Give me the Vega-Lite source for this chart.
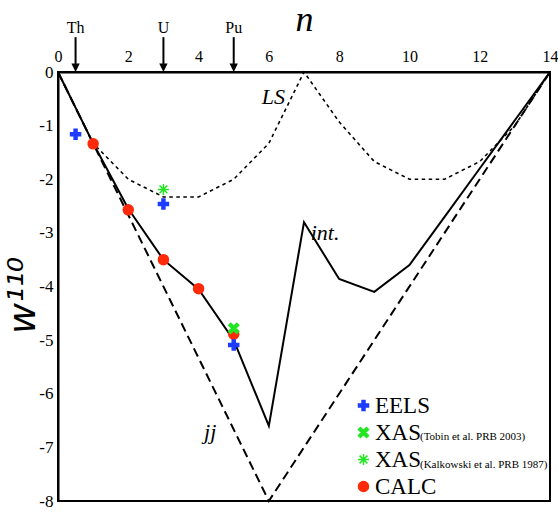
{
  "$schema": "https://vega.github.io/schema/vega-lite/v6.json",
  "width": 492,
  "height": 429,
  "autosize": {"type": "none"},
  "padding": {"left": 58, "top": 72, "right": 8, "bottom": 11},
  "background": "white",
  "config": {
    "view": {"stroke": "black", "strokeWidth": 2},
    "font": "Liberation Serif",
    "text": {"color": "black", "font": "Liberation Serif"},
    "axisY": {
      "ticks": false, "grid": false, "domainColor": "black", "domainWidth": 2,
      "labelFont": "Liberation Serif", "labelFontSize": 17, "labelColor": "black", "labelPadding": 5,
      "labelFlush": false, "labelOverlap": false,
      "titleFont": "DejaVu Sans", "titleFontSize": 38, "titleFontStyle": "italic", "titleFontWeight": "normal",
      "titleColor": "black", "titleAngle": 270, "titleX": -24, "titleY": 223, "titleAlign": "center", "titleBaseline": "alphabetic"
    }
  },
  "datasets": {
    "curves": [
      {"model": "int", "n": 0, "w": 0},
      {"model": "int", "n": 1, "w": -1.33},
      {"model": "int", "n": 2, "w": -2.55},
      {"model": "int", "n": 3, "w": -3.5},
      {"model": "int", "n": 4, "w": -4.05},
      {"model": "int", "n": 5, "w": -5.0},
      {"model": "int", "n": 6, "w": -6.6},
      {"model": "int", "n": 7, "w": -2.8},
      {"model": "int", "n": 8, "w": -3.86},
      {"model": "int", "n": 9, "w": -4.1},
      {"model": "int", "n": 10, "w": -3.6},
      {"model": "int", "n": 11, "w": -2.7},
      {"model": "int", "n": 12, "w": -1.8},
      {"model": "int", "n": 13, "w": -0.9},
      {"model": "int", "n": 14, "w": 0},
      {"model": "LS", "n": 0, "w": 0},
      {"model": "LS", "n": 1, "w": -1.33},
      {"model": "LS", "n": 2, "w": -2.0},
      {"model": "LS", "n": 3, "w": -2.33},
      {"model": "LS", "n": 4, "w": -2.33},
      {"model": "LS", "n": 5, "w": -2.0},
      {"model": "LS", "n": 6, "w": -1.33},
      {"model": "LS", "n": 7, "w": 0},
      {"model": "LS", "n": 8, "w": -0.93},
      {"model": "LS", "n": 9, "w": -1.67},
      {"model": "LS", "n": 10, "w": -2.0},
      {"model": "LS", "n": 11, "w": -2.0},
      {"model": "LS", "n": 12, "w": -1.67},
      {"model": "LS", "n": 13, "w": -1.0},
      {"model": "LS", "n": 14, "w": 0},
      {"model": "jj", "n": 0, "w": 0},
      {"model": "jj", "n": 6, "w": -8},
      {"model": "jj", "n": 14, "w": 0}
    ],
    "measured": [
      {"series": "CALC", "n": 1, "w": -1.34},
      {"series": "CALC", "n": 2, "w": -2.57},
      {"series": "CALC", "n": 3, "w": -3.5},
      {"series": "CALC", "n": 4, "w": -4.04},
      {"series": "CALC", "n": 5, "w": -4.89},
      {"series": "EELS", "n": 0.5, "w": -1.16},
      {"series": "EELS", "n": 3, "w": -2.46},
      {"series": "EELS", "n": 5, "w": -5.09},
      {"series": "XAS (Tobin et al. PRB 2003)", "n": 5, "w": -4.78},
      {"series": "XAS (Kalkowski et al. PRB 1987)", "n": 3, "w": -2.19}
    ],
    "elements": [
      {"element": "Th", "n": 0.5},
      {"element": "U", "n": 3},
      {"element": "Pu", "n": 5}
    ],
    "notes": [
      {"note": "LS", "n": 6.13, "w": -0.46},
      {"note": "int.", "n": 7.6, "w": -3.0},
      {"note": "jj", "n": 4.33, "w": -6.72}
    ],
    "refs": [
      {"ref": "(Tobin et al. PRB 2003)", "n": 10.3, "w": -6.87},
      {"ref": "(Kalkowski et al. PRB 1987)", "n": 10.3, "w": -7.39}
    ]
  },
  "encoding": {
    "x": {
      "field": "n", "type": "quantitative",
      "scale": {"domain": [0, 14], "nice": false, "zero": false},
      "axis": {
        "orient": "top", "values": [0, 2, 4, 6, 8, 10, 12, 14], "ticks": false, "grid": false,
        "domainColor": "black", "domainWidth": 2,
        "labelFont": "Liberation Serif", "labelFontSize": 16, "labelColor": "black",
        "labelPadding": 8, "labelFlush": false, "labelOverlap": false, "labelBound": false,
        "title": "n", "titleFont": "Liberation Serif", "titleFontSize": 36, "titleFontStyle": "italic",
        "titleFontWeight": "normal", "titleColor": "black", "titlePadding": 10
      }
    }
  },
  "layer": [
    {
      "data": {"name": "curves"},
      "transform": [{"filter": "datum.model == 'jj'"}],
      "mark": {"type": "line", "color": "black", "strokeWidth": 2, "strokeDash": [9, 5]},
      "encoding": {
        "y": {"field": "w", "type": "quantitative", "scale": {"domain": [-8, 0], "nice": false, "zero": false},
              "axis": {"values": [-8, -7, -6, -5, -4, -3, -2, -1, 0], "labelExpr": "'' + datum.value", "title": "w¹¹⁰"}}
      }
    },
    {
      "data": {"name": "curves"},
      "transform": [{"filter": "datum.model == 'LS'"}],
      "mark": {"type": "line", "color": "black", "strokeWidth": 1.6, "strokeDash": [3.5, 3.5]},
      "encoding": {
        "y": {"field": "w", "type": "quantitative", "scale": {"domain": [-8, 0], "nice": false, "zero": false},
              "axis": {"values": [-8, -7, -6, -5, -4, -3, -2, -1, 0], "labelExpr": "'' + datum.value", "title": "w¹¹⁰"}}
      }
    },
    {
      "data": {"name": "curves"},
      "transform": [{"filter": "datum.model == 'int'"}],
      "mark": {"type": "line", "color": "black", "strokeWidth": 2},
      "encoding": {
        "y": {"field": "w", "type": "quantitative", "scale": {"domain": [-8, 0], "nice": false, "zero": false},
              "axis": {"values": [-8, -7, -6, -5, -4, -3, -2, -1, 0], "labelExpr": "'' + datum.value", "title": "w¹¹⁰"}}
      }
    },
    {
      "data": {"name": "measured"},
      "mark": {"type": "point", "filled": true, "opacity": 1, "size": 100, "strokeWidth": 1.5},
      "encoding": {
        "y": {"field": "w", "type": "quantitative", "scale": {"domain": [-8, 0], "nice": false, "zero": false},
              "axis": {"values": [-8, -7, -6, -5, -4, -3, -2, -1, 0], "labelExpr": "'' + datum.value", "title": "w¹¹⁰"}},
        "fill": {
          "field": "series", "type": "nominal", "sort": null,
          "scale": {
            "domain": ["EELS", "XAS (Tobin et al. PRB 2003)", "XAS (Kalkowski et al. PRB 1987)", "CALC"],
            "range": ["#1e3cff", "#22e622", "#22e622", "#ff2a0a"]
          },
          "legend": {
            "title": null, "orient": "none", "legendX": 294, "legendY": 322, "padding": 0,
            "labelFont": "Liberation Serif", "labelFontSize": 23, "labelColor": "black",
            "symbolSize": 100, "symbolStrokeWidth": 1.5, "rowPadding": 3, "labelOffset": 0,
            "labelExpr": "split(datum.label, ' ')[0]"
          }
        },
        "stroke": {
          "field": "series", "type": "nominal", "sort": null,
          "scale": {
            "domain": ["EELS", "XAS (Tobin et al. PRB 2003)", "XAS (Kalkowski et al. PRB 1987)", "CALC"],
            "range": ["#1e3cff", "#22e622", "#22e622", "#ff2a0a"]
          },
          "legend": {
            "title": null, "orient": "none", "legendX": 294, "legendY": 322, "padding": 0,
            "labelFont": "Liberation Serif", "labelFontSize": 23, "labelColor": "black",
            "symbolSize": 100, "symbolStrokeWidth": 1.5, "rowPadding": 3, "labelOffset": 0,
            "labelExpr": "split(datum.label, ' ')[0]"
          }
        },
        "shape": {
          "field": "series", "type": "nominal", "sort": null,
          "scale": {
            "domain": ["EELS", "XAS (Tobin et al. PRB 2003)", "XAS (Kalkowski et al. PRB 1987)", "CALC"],
            "range": [
              "M-0.3,-1H0.3V-0.3H1V0.3H0.3V1H-0.3V0.3H-1V-0.3H-0.3Z",
              "M-1,-0.6L-0.6,-1L0,-0.4L0.6,-1L1,-0.6L0.4,0L1,0.6L0.6,1L0,0.4L-0.6,1L-1,0.6L-0.4,0Z",
              "M0,-1.1L0,1.1M-1.1,0L1.1,0M-0.78,-0.78L0.78,0.78M-0.78,0.78L0.78,-0.78",
              "circle"
            ]
          },
          "legend": {
            "title": null, "orient": "none", "legendX": 294, "legendY": 322, "padding": 0,
            "labelFont": "Liberation Serif", "labelFontSize": 23, "labelColor": "black",
            "symbolSize": 100, "symbolStrokeWidth": 1.5, "rowPadding": 3, "labelOffset": 0,
            "labelExpr": "split(datum.label, ' ')[0]"
          }
        }
      }
    },
    {
      "data": {"name": "elements"},
      "mark": {"type": "rule", "color": "black", "strokeWidth": 2},
      "encoding": {
        "y": {"datum": 0.65, "type": "quantitative", "scale": {"domain": [-8, 0], "nice": false, "zero": false},
              "axis": {"values": [-8, -7, -6, -5, -4, -3, -2, -1, 0], "labelExpr": "'' + datum.value", "title": "w¹¹⁰"}},
        "y2": {"datum": 0.15}
      }
    },
    {
      "data": {"name": "elements"},
      "mark": {"type": "point", "shape": "M-1,-1L1,-1L0,1Z", "filled": true, "color": "black", "opacity": 1, "size": 70},
      "encoding": {
        "y": {"datum": 0.08, "type": "quantitative", "scale": {"domain": [-8, 0], "nice": false, "zero": false},
              "axis": {"values": [-8, -7, -6, -5, -4, -3, -2, -1, 0], "labelExpr": "'' + datum.value", "title": "w¹¹⁰"}}
      }
    },
    {
      "data": {"name": "elements"},
      "mark": {"type": "text", "fontSize": 16, "baseline": "alphabetic", "align": "center", "color": "black"},
      "encoding": {
        "y": {"datum": 0.72, "type": "quantitative", "scale": {"domain": [-8, 0], "nice": false, "zero": false},
              "axis": {"values": [-8, -7, -6, -5, -4, -3, -2, -1, 0], "labelExpr": "'' + datum.value", "title": "w¹¹⁰"}},
        "text": {"field": "element"}
      }
    },
    {
      "data": {"name": "notes"},
      "mark": {"type": "text", "fontSize": 22, "fontStyle": "italic", "baseline": "middle", "align": "center", "color": "black"},
      "encoding": {
        "y": {"field": "w", "type": "quantitative", "scale": {"domain": [-8, 0], "nice": false, "zero": false},
              "axis": {"values": [-8, -7, -6, -5, -4, -3, -2, -1, 0], "labelExpr": "'' + datum.value", "title": "w¹¹⁰"}},
        "text": {"field": "note"}
      }
    },
    {
      "data": {"name": "refs"},
      "mark": {"type": "text", "fontSize": 11, "baseline": "alphabetic", "align": "left", "color": "black"},
      "encoding": {
        "y": {"field": "w", "type": "quantitative", "scale": {"domain": [-8, 0], "nice": false, "zero": false},
              "axis": {"values": [-8, -7, -6, -5, -4, -3, -2, -1, 0], "labelExpr": "'' + datum.value", "title": "w¹¹⁰"}},
        "text": {"field": "ref"}
      }
    }
  ]
}
